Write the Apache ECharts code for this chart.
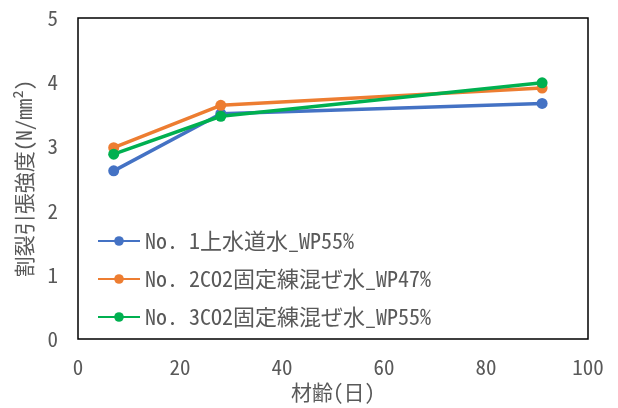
<!DOCTYPE html>
<html><head><meta charset="utf-8">
<script src="https://cdn.jsdelivr.net/npm/echarts@6/dist/echarts.min.js"></script>
<style>html,body{margin:0;padding:0;background:#fff}#c{width:618px;height:408px}</style>
</head><body><div id="c"></div>
<script>
const ages = [7, 28, 91];
const seriesNames = ['No. 1上水道水_WP55%', 'No. 2CO2固定練混ぜ水_WP47%', 'No. 3CO2固定練混ぜ水_WP55%'];
const s1 = [2.62, 3.51, 3.67];
const s2 = [2.98, 3.64, 3.91];
const s3 = [2.88, 3.47, 3.99];
const colors = ['#4472C4', '#ED7D31', '#00B050'];
const xTitle = '材齢(日)';
const yTitle = '割裂引張強度(N/mm²)';
const font = '"Noto Sans Mono CJK JP", "Noto Sans CJK JP", sans-serif';
const vals = [s1, s2, s3];
const chart = echarts.init(document.getElementById('c'));
chart.setOption({
  animation: false,
  textStyle: {fontFamily: font},
  grid: {left: 78, right: 30, top: 18, bottom: 65, show: true, borderColor: '#000', borderWidth: 1.5},
  legend: {
    orient: 'vertical', left: 97, top: 230, padding: 0, itemWidth: 42, itemHeight: 12, itemGap: 16,
    textStyle: {fontSize: 22, color: '#595959', fontFamily: font},
    data: seriesNames
  },
  xAxis: {
    type: 'value', min: 0, max: 100, interval: 20,
    axisLine: {show: false}, axisTick: {show: false}, splitLine: {show: false},
    axisLabel: {fontSize: 21, color: '#595959', margin: 17},
    name: xTitle, nameLocation: 'middle', nameGap: 42,
    nameTextStyle: {fontSize: 21, color: '#595959'}
  },
  yAxis: {
    type: 'value', min: 0, max: 5, interval: 1,
    axisLine: {show: false}, axisTick: {show: false}, splitLine: {show: false},
    axisLabel: {fontSize: 21, color: '#595959', margin: 20},
    name: yTitle, nameLocation: 'middle', nameGap: 43,
    nameTextStyle: {fontSize: 21, color: '#595959'}
  },
  series: seriesNames.map((n, i) => ({
    name: n, type: 'line', data: ages.map((a, j) => [a, vals[i][j]]),
    symbol: 'circle', symbolSize: 11,
    lineStyle: {color: colors[i], width: 3.5},
    itemStyle: {color: colors[i]}
  }))
});
</script></body></html>
